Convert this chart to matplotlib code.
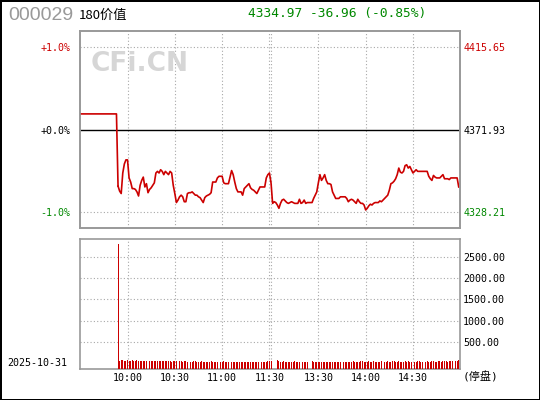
import numpy as np
import matplotlib
matplotlib.use("Agg")
import matplotlib.pyplot as plt

plt.rcParams['font.family'] = ['DejaVu Sans Mono', 'Noto Sans CJK SC']

# 行情数据 (分钟序号: 0 = 09:30, 120 = 11:30, 121 = 13:00, 241 = 15:00)
prev_close = 4371.93
pre_open_level = 0.19          # 开盘前平线 (%)
pre_open_minutes = [0, 23]

# 涨跌幅 (%), 分钟 24..240
pct = [
    -0.69, -0.75, -0.78, -0.53, -0.42, -0.37, -0.37, -0.59, -0.64, -0.72, -0.72, -0.73, -0.76, -0.81, -0.68,
    -0.62, -0.58, -0.70, -0.66, -0.77, -0.73, -0.71, -0.68, -0.65, -0.53, -0.51, -0.53, -0.49, -0.51, -0.55,
    -0.51, -0.53, -0.55, -0.51, -0.53, -0.68, -0.78, -0.89, -0.86, -0.82, -0.80, -0.82, -0.88, -0.88, -0.78,
    -0.77, -0.77, -0.76, -0.78, -0.80, -0.80, -0.82, -0.83, -0.86, -0.89, -0.83, -0.81, -0.80, -0.79, -0.77,
    -0.64, -0.64, -0.64, -0.59, -0.57, -0.57, -0.57, -0.65, -0.66, -0.66, -0.66, -0.58, -0.50, -0.55, -0.64,
    -0.72, -0.76, -0.76, -0.76, -0.80, -0.72, -0.70, -0.68, -0.66, -0.71, -0.73, -0.74, -0.76, -0.78, -0.74,
    -0.70, -0.70, -0.70, -0.70, -0.59, -0.55, -0.53, -0.65,
    -0.90, -0.88, -0.89,
    -0.92, -0.96, -0.90, -0.86, -0.85, -0.87, -0.89, -0.90, -0.89, -0.88, -0.89, -0.90, -0.90, -0.90, -0.85,
    -0.90, -0.89, -0.86, -0.90, -0.89,
    -0.89, -0.89,
    -0.89, -0.84, -0.80, -0.76, -0.65, -0.55, -0.62, -0.59, -0.55, -0.62, -0.66, -0.66, -0.67, -0.76, -0.80,
    -0.84, -0.84, -0.84, -0.82, -0.82, -0.82, -0.82, -0.84, -0.88, -0.86, -0.85, -0.86, -0.88, -0.90, -0.85,
    -0.88, -0.90, -0.90, -0.92, -0.98, -0.96, -0.93, -0.91, -0.92, -0.90, -0.89, -0.89, -0.89, -0.87, -0.88,
    -0.86, -0.84, -0.82, -0.80, -0.74, -0.66, -0.65, -0.63, -0.60, -0.55, -0.47, -0.52, -0.53, -0.51, -0.44,
    -0.43, -0.47, -0.45, -0.49, -0.53, -0.51, -0.49, -0.51, -0.51, -0.51, -0.51, -0.51, -0.51, -0.51, -0.57,
    -0.60, -0.62, -0.56, -0.58, -0.59, -0.59, -0.59, -0.57, -0.55, -0.60, -0.60, -0.60, -0.61, -0.59, -0.59,
    -0.59, -0.59, -0.59, -0.70,
]

# 成交量, 分钟 24..240 (0 = 无成交)
vol = [
    2797,
    72, 76, 74, 66, 70, 78, 64, 70, 80, 68, 62, 74, 70, 66,
    72, 60, 64, 70, 58, 62, 66, 60, 56, 62, 58, 54, 60, 64, 56,
    52, 58, 62, 54, 50, 56, 60, 52, 48, 56, 54, 50, 58, 52, 48,
    54, 50, 46, 52, 56, 48, 44, 50, 54, 46, 42, 50, 48, 44, 52,
    48, 42, 46, 50, 44, 40, 48, 52, 42, 38, 46, 44, 40, 36, 42,
    38, 34, 40, 44, 36, 34, 38, 42, 36, 32, 38, 40, 34, 36, 42,
    38, 44, 48, 40, 46, 56, 62, 60,
    0, 0, 0,
    80, 56, 50, 46, 52, 48, 44, 50, 46, 42, 48, 52, 44, 40, 48, 46, 42, 50, 44, 40,
    0, 0,
    60, 48, 44, 50, 46, 42, 48, 44, 40, 46, 50, 42, 38, 44, 48,
    42, 46, 40, 44, 48, 42, 38, 46, 44, 40, 48, 52, 44, 42, 50,
    46, 52, 56, 48, 44, 50, 54, 48, 46, 52, 48, 44, 50, 46, 52,
    48, 44, 50, 54, 48, 46, 52, 56, 50, 46, 52, 48, 44, 50, 54,
    48, 52, 46, 50, 54, 48, 44, 52, 56, 50, 46, 52, 48, 54, 50,
    46, 52, 56, 50, 48, 54, 52, 48, 56, 60, 54, 50, 58, 62, 56,
    64, 58, 52, 96,
]

minutes = list(range(24, 241))
assert len(pct) == len(minutes) and len(vol) == len(minutes)

grid_minutes = [30, 60, 90, 120, 121, 151, 181, 211]
time_ticks = [30, 60, 90, 120, 151, 181, 211]
time_labels = ['10:00', '10:30', '11:00', '11:30', '13:30', '14:00', '14:30']

pct_ticks = [-1.0, 0.0, 1.0]
pct_labels = ['-1.0%', '+0.0%', '+1.0%']
price_labels = ['4328.21', '4371.93', '4415.65']
level_colors = ['#008800', 'black', '#cc0000']

vol_ticks = [500, 1000, 1500, 2000, 2500]

RED = '#cc0000'
GRID = '#a8a8a8'
FRAME = '#999999'

fig = plt.figure(figsize=(5.4, 4.0), dpi=100, facecolor='white',
                 linewidth=2, edgecolor='black')

# ---- 分时图 ----
ax = fig.add_axes([0.1485, 0.43, 0.7039, 0.4925])
ax.set_xlim(0, 241)
ax.set_ylim(-1.2, 1.2)
for m in grid_minutes:
    ax.axvline(m, color=GRID, lw=0.8, ls=(0, (1, 2)), zorder=1)
for v in (-1.0, 1.0):
    ax.axhline(v, color=GRID, lw=0.8, ls=(0, (1, 2)), zorder=1)
ax.axhline(0, color='black', lw=1.0, zorder=2)

ax.plot(pre_open_minutes + [minutes[0]], [pre_open_level, pre_open_level, pct[0]],
        color=RED, lw=1.2, zorder=3)
ax.plot(minutes, pct, color=RED, lw=1.2, zorder=3)

ax.set_xticks([])
ax.set_yticks(pct_ticks)
ax.set_yticklabels(pct_labels, fontsize=7.2)
ax.tick_params(axis='y', length=0, pad=7)
for lbl, c in zip(ax.get_yticklabels(), level_colors):
    lbl.set_color(c)

ax2 = ax.twinx()
ax2.set_ylim(prev_close * (1 - 0.012), prev_close * (1 + 0.012))
ax2.set_yticks([float(p) for p in price_labels])
ax2.set_yticklabels(price_labels, fontsize=7.2)
ax2.tick_params(axis='y', length=0, pad=2)
for lbl, c in zip(ax2.get_yticklabels(), level_colors):
    lbl.set_color(c)

for a in (ax, ax2):
    for s in a.spines.values():
        s.set_color(FRAME)
        s.set_linewidth(1.2)

fig.text(0.168, 0.84, 'CFi.CN', fontsize=19, fontweight='bold',
         family='DejaVu Sans', color='#d6d6d6', va='center')

# ---- 成交量 ----
vol_floor = -125
bx = fig.add_axes([0.1485, 0.0775, 0.7039, 0.32625])
bx.set_xlim(0, 241)
bx.set_ylim(vol_floor, 2925)
for m in grid_minutes:
    bx.axvline(m, color=GRID, lw=0.8, ls=(0, (1, 2)), zorder=1)
for v in vol_ticks:
    bx.axhline(v, color=GRID, lw=0.8, ls=(0, (1, 2)), zorder=1)

vm = [m for m, v in zip(minutes, vol) if v > 0]
vv = [v - vol_floor for v in vol if v > 0]
bx.bar(vm, vv, bottom=vol_floor, width=0.6, color=RED, linewidth=0, zorder=3)

bx.yaxis.tick_right()
bx.set_yticks(vol_ticks)
bx.set_yticklabels([f'{v:.2f}' for v in vol_ticks], fontsize=7.2)
bx.set_xticks(time_ticks)
bx.set_xticklabels(time_labels, fontsize=7.2)
bx.tick_params(length=0, pad=3)
bx.tick_params(axis='y', pad=2)
for s in bx.spines.values():
    s.set_color(FRAME)
    s.set_linewidth(1.2)

fig.text(463 / 540, 1 - 377 / 400, '(停盘)', fontsize=8, va='center', ha='left')
fig.text(7 / 540, 1 - 363 / 400, '2025-10-31', fontsize=7.2, va='center', ha='left')

# ---- 标题 ----
fig.text(8 / 540, 1 - 16 / 400, '000029', fontsize=14, color='#999999',
         family='Liberation Sans', va='center')
fig.text(79 / 540, 1 - 15 / 400, '180价值', fontsize=9.5,
         family=['Noto Sans CJK SC', 'DejaVu Sans'], va='center')
fig.text(248 / 540, 1 - 14 / 400, '4334.97 -36.96 (-0.85%)', fontsize=9.3,
         color='#008800', va='center')

fig.savefig('out.png', dpi=100, facecolor='white', edgecolor='black')
